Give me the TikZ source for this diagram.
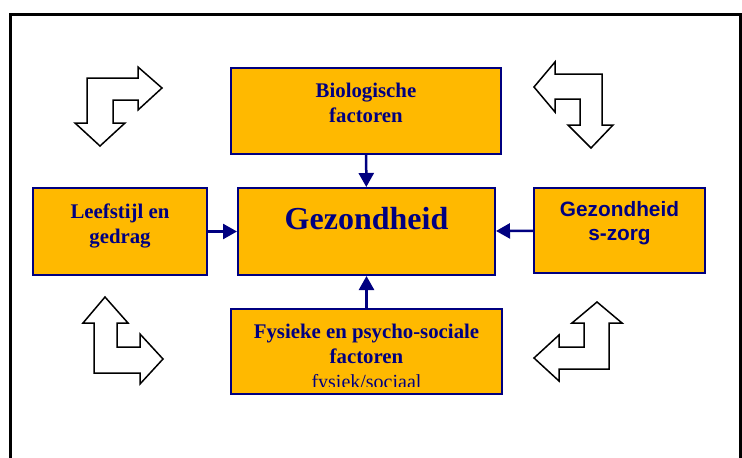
\documentclass[tikz,border=0pt]{standalone}
\usepackage{fontspec}
\setmainfont{Liberation Serif}
\newfontfamily\arialfont{Liberation Sans}
\usetikzlibrary{arrows.meta}
\definecolor{oranje}{HTML}{FFB900}
\definecolor{navy}{HTML}{000080}

\begin{document}
\begin{tikzpicture}[x=1pt,y=-1pt,>={Triangle[length=14pt,width=15pt]},
 f/.style={draw=navy,line width=2pt,fill=oranje,text=navy,align=center,inner sep=0pt,
  font=\bfseries\fontsize{20.8}{25}\selectfont},
 blk/.style={draw,fill=white,line width=1.5pt,line join=miter},
 con/.style={navy,line width=2.5pt}]
 \useasboundingbox (0,0) rectangle (742,458);
 \draw[line width=2.4pt] (10.5,14.3) rectangle (740.5,475);
 \node[f,minimum width=270,minimum height=86,text depth=16pt] (bio) at (366,110.5) {Biologische\\factoren};
 \node[f,minimum width=257,minimum height=87,text depth=27pt,font=\bfseries\fontsize{32}{38}\selectfont] (gez) at (366.5,231.5) {Gezondheid};
 \node[f,minimum width=174,minimum height=87,text depth=16pt] (leef) at (120,231.5) {Leefstijl en\\gedrag};
 \node[f,minimum width=171,minimum height=85,text depth=19pt,font=\arialfont\bfseries\fontsize{20.8}{24}\selectfont] (zorg) at (619.5,230.5) {Gezondheid\\s-zorg};
 \node[f,minimum width=271,minimum height=85,text depth=16pt] (fys) at (366.5,351.5) {Fysieke en psycho-sociale\\factoren};
 \begin{scope}
  \clip (231,309) rectangle (502,386);
  \node[text=navy,font=\fontsize{20}{24}\selectfont,anchor=base,inner sep=0pt] (fysl) at (366.5,388) {fysiek/sociaal};
 \end{scope}
 \draw[con,->] (bio)--(gez);\draw[con,->] (fys)--(gez);
 \draw[con,->] (leef)--(gez);\draw[con,->] (zorg)--(gez);
 % blokpijlen in de hoeken
 \draw[blk] (87,78)--(138,78)--(138,67)--(162,88)--(138,110)--(138,100)--(113,100)--(113,123)--(125,123)--(100,146)--(75,123)--(87,123)--cycle;
 \draw[blk] (534,87)--(555,62)--(555,74)--(602,74)--(602,125)--(613,125)--(591,148)--(568,125)--(580,125)--(580,99)--(555,99)--(555,112)--cycle;
 \draw[blk] (105,297)--(128,323)--(117,323)--(117,347)--(140,347)--(140,334)--(163,359)--(140,384)--(140,373)--(94,373)--(94,323)--(83,323)--cycle;
 \draw[blk] (597,302)--(622,323)--(609,323)--(609,369)--(559,369)--(559,381)--(534,358)--(559,335)--(559,347)--(584,347)--(584,323)--(572,323)--cycle;
\end{tikzpicture}
\end{document}
